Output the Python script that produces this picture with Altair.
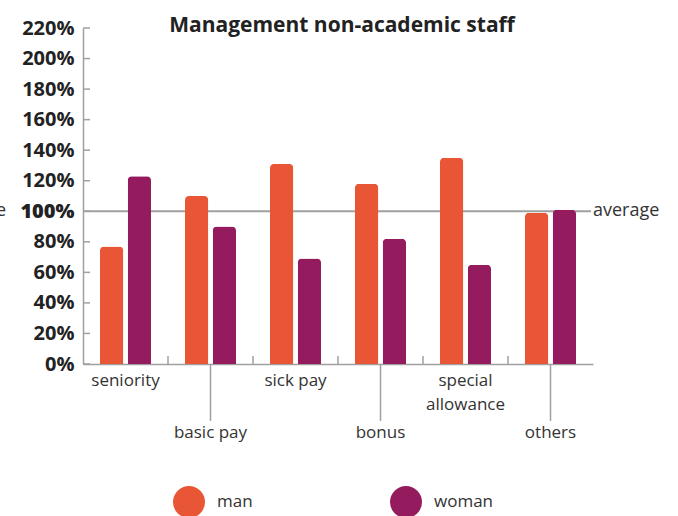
import altair as alt
import pandas as pd

# ---- data ----
categories = ["seniority", "basic pay", "sick pay", "bonus", "special allowance", "others"]
cat_labels = ["seniority", "basic pay", "sick pay", "bonus", "special\nallowance", "others"]
label_row = [0, 1, 0, 1, 0, 1]
man = [77, 110, 131, 118, 135, 99]
woman = [123, 90, 69, 82, 65, 101]
groups = ["man", "woman"]
colors = ["#E95635", "#951B5F"]
y_ticks = [0, 20, 40, 60, 80, 100, 120, 140, 160, 180, 200, 220]
avg_value = 100
avg_label = "average"
title_text = "Management non-academic staff"

FONT = "Open Sans"
W, H = 510, 336

bars_df = pd.DataFrame(
    [{"category": c, "sex": "man", "value": v} for c, v in zip(categories, man)]
    + [{"category": c, "sex": "woman", "value": v} for c, v in zip(categories, woman)]
)
labels_df = pd.DataFrame({"category": categories, "label": cat_labels, "row": label_row})
ticks_df = pd.DataFrame({"v": y_ticks})
bound_df = pd.DataFrame({"category": categories[1:]})
avg_df = pd.DataFrame({"v": [avg_value], "t": [avg_label]})

xscale = alt.Scale(domain=categories, paddingInner=0, paddingOuter=0)
yscale = alt.Scale(domain=[0, 220], nice=False)

xaxis = alt.Axis(labels=False, ticks=False, title=None, domainColor="#a0a0a0", domainWidth=1.5)
yaxis = alt.Axis(values=y_ticks, labelExpr="datum.value + '%'", ticks=False, grid=False,
                 title=None, domainColor="#a0a0a0", domainWidth=1.5,
                 labelOverlap=False, labelFlush=False,
                 labelFontSize=20, labelColor="#222", labelPadding=9,
                 labelFontWeight={"condition": {"test": "datum.value == 100", "value": 900}, "value": 700})


def Xc(**kw):
    return alt.X("category:N", sort=categories, scale=xscale, axis=xaxis, **kw)


def Yv():
    return alt.Y("v:Q", scale=yscale, axis=yaxis)


bars = alt.Chart(bars_df).mark_bar(cornerRadiusTopLeft=4, cornerRadiusTopRight=4).encode(
    x=Xc(),
    xOffset=alt.XOffset("sex:N", sort=groups, scale=alt.Scale(paddingInner=0.16, paddingOuter=0.613)),
    y=alt.Y("value:Q", scale=yscale, axis=yaxis),
    color=alt.Color("sex:N", sort=groups, scale=alt.Scale(domain=groups, range=colors),
                    legend=alt.Legend(orient="none", legendX=90, legendY=458, direction="horizontal",
                                      title=None, symbolType="circle", symbolSize=1024, symbolStrokeWidth=0,
                                      symbolOpacity=1, labelFontSize=17, labelColor="#333", labelOffset=12,
                                      columnPadding=137, padding=0)),
)

ytick_rules = alt.Chart(ticks_df).mark_rule(color="#a0a0a0", strokeWidth=1.5).encode(
    y=Yv(), x=alt.value(0), x2=alt.value(7)
)

bound_rules = alt.Chart(bound_df).mark_rule(color="#a0a0a0", strokeWidth=1.5).encode(
    x=Xc(bandPosition=0), y=alt.value(H), y2=alt.value(H - 8)
)

long_rules = alt.Chart(labels_df).transform_filter("datum.row == 1").mark_rule(
    color="#a0a0a0", strokeWidth=1.5).encode(
    x=Xc(), y=alt.value(H), y2=alt.value(H + 57)
)

avg_rule = alt.Chart(avg_df).mark_rule(color="#a0a0a0", strokeWidth=2).encode(
    y=Yv(), x=alt.value(0), x2=alt.value(W - 2)
)
avg_text_r = alt.Chart(avg_df).mark_text(align="left", baseline="middle", fontSize=18, color="#333",
                                         font=FONT).encode(
    y=Yv(), x=alt.value(W), text="t:N"
)
avg_text_l = alt.Chart(avg_df).mark_text(align="right", baseline="middle", fontSize=18, color="#333",
                                         font=FONT).encode(
    y=Yv(), x=alt.value(-77), text="t:N"
)

lab0 = alt.Chart(labels_df).transform_filter("datum.row == 0").mark_text(
    baseline="top", fontSize=17, color="#333", lineBreak="\n", lineHeight=24, font=FONT).encode(
    x=Xc(), y=alt.value(H + 9), text="label:N"
)
lab1 = alt.Chart(labels_df).transform_filter("datum.row == 1").mark_text(
    baseline="top", fontSize=17, color="#333", lineBreak="\n", lineHeight=24, font=FONT).encode(
    x=Xc(), y=alt.value(H + 61), text="label:N"
)

chart = alt.layer(
    avg_rule, bars, ytick_rules, bound_rules, long_rules, avg_text_r, avg_text_l, lab0, lab1
).properties(
    width=W, height=H,
    title=alt.Title(title_text, fontSize=21, fontWeight="bold", color="#222", anchor="middle",
                    font=FONT, offset=-12, dx=4, dy=6),
    autosize=alt.AutoSizeParams(type="none"),
    padding={"left": 83, "top": 28, "right": 85, "bottom": 152},
).configure(font=FONT).configure_view(stroke=None)

chart.save("out.html", embed_options={"renderer": "svg", "actions": False})
